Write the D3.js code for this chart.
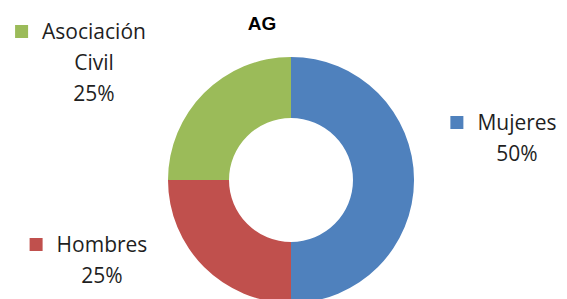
<!DOCTYPE html>
<html>
<head>
<script src="https://cdn.jsdelivr.net/npm/d3@7"></script>
<style>
  body { margin: 0; background: #fff; }
  text { font-family: "Open Sans", sans-serif; fill: #1f1f1f; }
</style>
</head>
<body>
<svg width="567" height="299"></svg>
<script>
// data
const categories = ["Mujeres", "Hombres", "Asociación Civil"];
const values = [50, 25, 25];
const percentLabels = ["50%", "25%", "25%"];
const labelLines = [["Mujeres"], ["Hombres"], ["Asociación", "Civil"]];
const colors = ["#4f81bd", "#c0504d", "#9bbb59"];
const chartTitle = "AG";

const svg = d3.select("svg");
const cx = 291, cy = 180, outerR = 123, innerR = 62;

const pie = d3.pie().sort(null).value(d => d)
    .startAngle(0).endAngle(2 * Math.PI);
const arc = d3.arc().innerRadius(innerR).outerRadius(outerR);
const color = d3.scaleOrdinal().domain(categories).range(colors);

svg.append("g")
    .attr("transform", "translate(" + cx + "," + cy + ")")
    .selectAll("path").data(pie(values)).enter()
    .append("path")
    .attr("d", arc)
    .attr("fill", (d, i) => color(categories[i]));

// title
svg.append("text")
    .attr("x", 262).attr("y", 30)
    .attr("text-anchor", "middle")
    .style("font-family", "'Liberation Sans', Arial, sans-serif")
    .style("font-weight", "bold")
    .style("font-size", "19px")
    .style("fill", "#000")
    .text(chartTitle);

// labels: center x of text block, baseline of first line
const labelPos = [[517, 130], [102, 252], [94, 39]];
const lineH = 31;

categories.forEach((c, i) => {
    const g = svg.append("g");
    const [lx, ly] = labelPos[i];
    const lines = labelLines[i].concat([percentLabels[i]]);
    lines.forEach((t, j) => {
        g.append("text")
            .attr("x", lx).attr("y", ly + j * lineH)
            .attr("text-anchor", "middle")
            .style("font-size", "21px")
            .text(t);
    });
    const w = g.select("text").node().getComputedTextLength();
    g.append("rect")
        .attr("x", lx - w / 2 - 27).attr("y", ly - 14)
        .attr("width", 13).attr("height", 13)
        .attr("fill", color(c));
});
</script>
</body>
</html>
